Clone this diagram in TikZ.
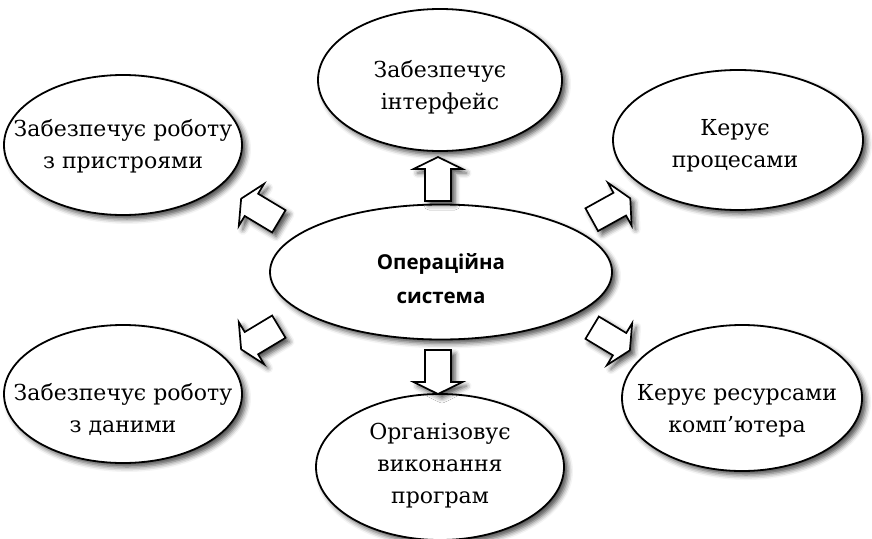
\documentclass[tikz,border=0pt]{standalone}
\usepackage{fontspec}
\setmainfont{DejaVu Serif}
\newfontfamily\ossans{Open Sans}
\usetikzlibrary{shapes.geometric,shadows.blur}
\tikzset{
  shd/.style={blur shadow={shadow xshift=4pt,shadow yshift=-4pt,shadow blur radius=5pt,shadow opacity=70}},
  oval/.style={ellipse,draw,line width=1.8pt,fill=white,inner sep=0pt,shd},
  txt/.style={inner sep=0pt,align=center,font=\fontsize{22}{32}\selectfont},
  pics/blockarrow/.style={code={
    \draw[line width=1.7pt,fill=white,line join=miter,shd]
      (-22pt,-13pt) -- (10pt,-13pt) -- (10pt,-24.5pt) -- (22pt,0pt) -- (10pt,24.5pt)
      -- (10pt,13pt) -- (-22pt,13pt) -- cycle;
  }}
}
\begin{document}
\begin{tikzpicture}[x=1pt,y=-1pt]
\useasboundingbox (0,0) rectangle (872,538);
\node[oval,minimum width=342pt,minimum height=135pt] (os) at (441,272) {};
\node[txt,font=\ossans\bfseries\fontsize{20.5}{34}\selectfont] (ost) at (441,279) {Операційна\\система};
\node[oval,minimum width=244pt,minimum height=142pt] (top) at (440,80) {};
\node[txt] (topt) at (440,87) {Забезпечує\\інтерфейс};
\node[oval,minimum width=238pt,minimum height=140pt] (tl) at (123,145) {};
\node[txt] (tlt) at (123,146) {Забезпечує роботу\\з пристроями};
\node[oval,minimum width=250pt,minimum height=140pt] (tr) at (738,140) {};
\node[txt] (trt) at (735,146) {Керує\\процесами};
\node[oval,minimum width=238pt,minimum height=138pt] (bl) at (123,394) {};
\node[txt] (blt) at (123,409) {Забезпечує роботу\\з даними};
\node[oval,minimum width=248pt,minimum height=146pt] (bot) at (440,467) {};
\node[txt] (bott) at (440,466) {Організовує\\виконання\\програм};
\node[oval,minimum width=240pt,minimum height=146pt] (br) at (742,398) {};
\node[txt] (brt) at (737,411) {Керує ресурсами\\комп’ютера};
\pic[rotate=90] at (438,179) {blockarrow};
\pic[rotate=-90] at (438,372) {blockarrow};
\pic[rotate=149] at (260,210) {blockarrow};
\pic[rotate=29] at (611,209) {blockarrow};
\pic[rotate=211] at (260,338) {blockarrow};
\pic[rotate=-31] at (611,339) {blockarrow};
\end{tikzpicture}
\end{document}
